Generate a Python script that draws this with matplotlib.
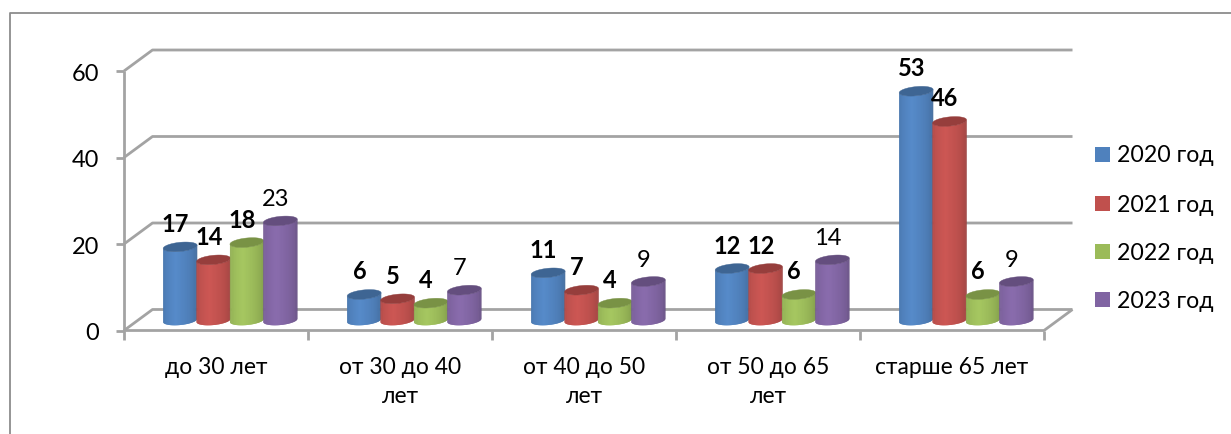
import numpy as np
import matplotlib
matplotlib.use("Agg")
import matplotlib.pyplot as plt
from matplotlib.colors import to_rgb
from matplotlib.collections import PolyCollection

categories = ["до 30 лет", "от 30 до 40\nлет", "от 40 до 50\nлет", "от 50 до 65\nлет", "старше 65 лет"]
years = ["2020 год", "2021 год", "2022 год", "2023 год"]
v2020 = [17, 6, 11, 12, 53]
v2021 = [14, 5, 7, 12, 46]
v2022 = [18, 4, 4, 6, 6]
v2023 = [23, 7, 9, 14, 9]
bold = [True, True, True, False]
colors = ["#4F81BD", "#C0504D", "#9BBB59", "#8064A2"]
yticks = [0, 20, 40, 60]

W, H = 1231, 434
plt.rcParams["font.family"] = ["Lato", "Noto Sans", "DejaVu Sans"]
fig = plt.figure(figsize=(W / 100, H / 100), dpi=100)
L, R, B, T = 124, 1044, 330.5, 71
ax = fig.add_axes([L / W, 1 - B / H, (R - L) / W, (B - T) / H])
ax.set_xlim(0, 5); ax.set_ylim(0, 60)
ax.axis("off")
pxx = (R - L) / 5; pxy = (B - T) / 60
GREY = "#A3A3A3"
DX, DY = 28.5 / pxx, 21 / pxy  # depth of the 3D box in data units

# outer frame: left and top edges only are visible
fig.add_artist(plt.Line2D([9.5 / W, 9.5 / W, 1], [0, 1 - 12.5 / H, 1 - 12.5 / H],
                          color="#8C8C8C", lw=1.3, transform=fig.transFigure))

kw = dict(color=GREY, lw=2.0, clip_on=False, solid_capstyle="butt")
for v in yticks:
    ax.plot([0, DX, 5 + DX], [v, v + DY, v + DY], zorder=1, **kw)
    ax.plot([-8 / pxx, 0], [v, v], zorder=1, **kw)
ax.plot([0, 0], [0, 60], zorder=1, **kw)
ax.plot([0, 5, 5 + DX], [0, 0, DY], zorder=1, **kw)
for i in range(6):
    ax.plot([i, i], [0, -9 / pxy], zorder=1, **kw)


def shade(col, t):
    c = np.array(to_rgb(col))
    dark = c * 0.70
    light = np.clip(c * 1.05 + 0.012, 0, 1)
    return tuple(dark + (light - dark) * t)


def cylinder(xc, val, col, z):
    r = 17 / pxx
    ry = 4.6 / pxy
    tilt = 1.6 / pxy / r
    y0 = DY / 2 - 0.1
    top = y0 + val
    N = 40
    th = np.linspace(np.pi, 2 * np.pi, N + 1)  # front half of the cylinder
    xs = xc + r * np.cos(th)
    off = ry * np.sin(th) + tilt * (xs - xc)
    polys, cols = [], []
    for i in range(N):
        j = min(i + 2, N)  # strips overlap their neighbour so no seams show
        polys.append(list(zip(xs[i:j + 1], y0 + off[i:j + 1])) +
                     list(zip(xs[i:j + 1][::-1], top + off[i:j + 1][::-1])))
        u = (i + 0.5) / N
        t = np.clip(1 - abs(u - 0.42) / 0.58, 0, 1) ** 0.5
        cols.append(shade(col, t))
    pc = PolyCollection(polys, facecolors=cols, edgecolors="none", linewidths=0, zorder=z)
    ax.add_collection(pc)
    a = np.linspace(0, 2 * np.pi, 80)
    ex = xc + r * np.cos(a)
    ey = top + ry * np.sin(a) + tilt * (ex - xc)
    ax.fill(ex, ey, color=tuple(np.array(to_rgb(col)) * 0.78), lw=0.3, zorder=z + 0.001)
    return top


series = [v2020, v2021, v2022, v2023]
bw = 33.4 / pxx
for g in range(len(categories)):
    cx = g + 0.5 + DX / 2
    for s, vals in enumerate(series):
        xc = cx + (s - 1.5) * bw
        top = cylinder(xc, vals[g], colors[s], 3 + s * 0.01)
        ax.annotate(str(vals[g]), (xc, top), xytext=(-3.4, 10.8), textcoords="offset points",
                    ha="center", va="baseline", fontsize=17, color="black",
                    fontweight="bold" if bold[s] else "normal", zorder=10)
    ax.text(g + 0.5, -26 / pxy, categories[g], ha="center", va="top", fontsize=16.5,
            linespacing=1.52, color="black", clip_on=False)

for v in yticks:
    ax.annotate(str(v), (0, v), xytext=(-18, -2.2), textcoords="offset points",
                ha="right", va="center", fontsize=17, color="black", annotation_clip=False)

ly = [154.5, 203.5, 251.5, 299.5]
for y, name, c in zip(ly, years, colors):
    fig.add_artist(plt.Rectangle((1095 / W, 1 - (y + 7.5) / H), 15 / W, 15 / H, fc=c, ec="none",
                                 transform=fig.transFigure))
    fig.text(1117 / W, 1 - (y + 1.5) / H, name, ha="left", va="center", fontsize=16.7, color="black")

fig.savefig("out.png", dpi=100, facecolor="white")
